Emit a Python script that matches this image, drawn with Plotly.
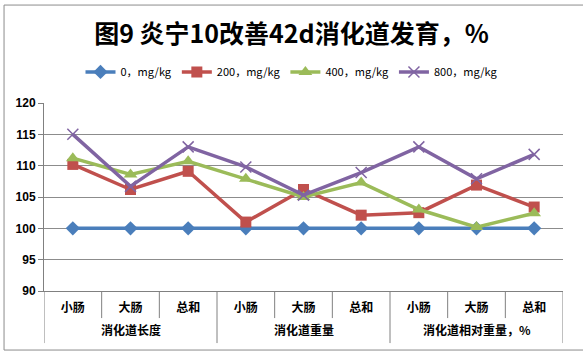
import plotly.graph_objects as go

groups = ["消化道长度", "消化道重量", "消化道相对重量，%"]
parts = ["小肠", "大肠", "总和"] * 3

series_names = ["0，mg/kg", "200，mg/kg", "400，mg/kg", "800，mg/kg"]
s0 = [100, 100, 100, 100, 100, 100, 100, 100, 100]
s200 = [110.2, 106.2, 109.1, 101.0, 106.2, 102.1, 102.5, 106.9, 103.4]
s400 = [111.2, 108.6, 110.7, 107.9, 105.0, 107.3, 103.0, 100.2, 102.4]
s800 = [115.0, 106.7, 113.0, 109.8, 105.3, 108.9, 113.0, 107.9, 111.8]

y_ticks = [90, 95, 100, 105, 110, 115, 120]

colors = ["#4A7EBB", "#C0504D", "#9BBB59", "#8064A2"]
symbols = ["diamond", "square", "triangle-up", "x-thin"]
sizes = [11, 11, 12, 11]

xpos = list(range(len(parts)))
n_sub = 3

fig = go.Figure()
for name, vals, c, sym, sz in zip(series_names, [s0, s200, s400, s800], colors, symbols, sizes):
    marker = dict(symbol=sym, size=sz, color=c)
    if sym == "x-thin":
        marker["line"] = dict(color=c, width=1.5)
    fig.add_trace(go.Scatter(
        x=xpos, y=vals, name=name, mode="lines+markers",
        line=dict(color=c, width=3.5), marker=marker,
    ))

font_family = "Noto Sans CJK SC, Liberation Sans, sans-serif"

shapes = []
for i in range(len(parts) + 1):
    outer = (i % n_sub == 0)
    shapes.append(dict(type="line", xref="x", yref="paper",
                       x0=i - 0.5, x1=i - 0.5, y0=0, y1=(-0.277 if outer else -0.144),
                       line=dict(color="#808080", width=1)))
# chart border
shapes.append(dict(type="rect", xref="paper", yref="paper",
                   x0=-0.077, x1=1.040, y0=-0.314, y1=1.521,
                   line=dict(color="#8C8C8C", width=1), layer="below"))

annotations = []
for g, name in enumerate(groups):
    annotations.append(dict(text=name, xref="x", yref="paper", x=g * n_sub + (n_sub - 1) / 2,
                            y=0, yanchor="middle", xanchor="center", yshift=-38,
                            showarrow=False,
                            font=dict(family=font_family, size=12, color="black", weight="bold")))

fig.update_layout(
    width=583, height=356,
    margin=dict(l=44, r=20, t=103, b=65, autoexpand=False),
    paper_bgcolor="white", plot_bgcolor="white",
    title=dict(text="<b>图9 炎宁10改善42d消化道发育，%</b>", x=0.5, xref="container",
               xanchor="center", y=0.905, yanchor="middle",
               font=dict(family=font_family, size=25, color="black")),
    legend=dict(orientation="h", x=0.5, xanchor="center", xref="container",
                y=0.798, yref="container", yanchor="middle",
                font=dict(family=font_family, size=11, color="black"),
                itemwidth=30, tracegroupgap=0),
    font=dict(family=font_family, size=11, color="black"),
    shapes=shapes,
    annotations=annotations,
    showlegend=True,
)
fig.update_xaxes(
    range=[-0.5, len(parts) - 0.5], tickvals=xpos, ticktext=parts,
    showline=True, linecolor="#808080", linewidth=1, showgrid=False, zeroline=False,
    tickfont=dict(family=font_family, size=12, color="black", weight="bold"),
    ticks="", ticklabelstandoff=6, mirror=False, automargin=False,
)
fig.update_yaxes(
    range=[90, 120], tickvals=y_ticks, showline=True, linecolor="#808080",
    linewidth=1, showgrid=True, gridcolor="#8C8C8C", gridwidth=1,
    ticks="outside", ticklen=5, tickcolor="#808080", zeroline=False,
    automargin=False,
    tickfont=dict(family="Liberation Sans, Arial", size=12, color="black", weight="bold"),
)

fig.write_html("out.html", config={"displayModeBar": False},
               post_script="document.body.style.margin='0';")
